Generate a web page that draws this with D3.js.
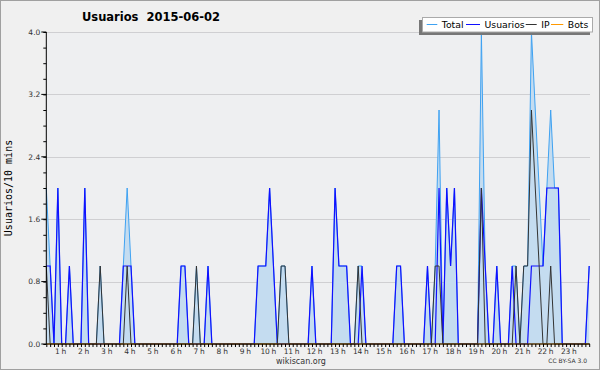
<!DOCTYPE html>
<html>
<head>
<meta charset="utf-8">
<style>
  body { margin: 0; background: #f0f0f0; }
  svg { display: block; }
  .tick-y { font-family: 'DejaVu Sans', sans-serif; font-size: 7.5px; fill: #333; }
  .tick-x { font-family: 'DejaVu Sans', sans-serif; font-size: 7.5px; fill: #333; letter-spacing: -0.3px; }
</style>
</head>
<body>
<svg width="600" height="370"></svg>
<script src="https://d3js.org/d3.v7.min.js"></script>
<script>
// one value every 10 minutes, from 0:00
const usuarios = [
  1,1,0,2,0,0,1,0,0,0,2,0,
  0,0,0,0,0,0,0,0,1,1,1,0,
  0,0,0,0,0,0,0,0,0,0,0,1,
  1,0,0,0,0,0,1,0,0,0,0,0,
  0,0,0,0,0,0,0,1,1,1,2,1,
  0,0,0,0,0,0,0,0,0,1,0,0,
  0,0,0,2,1,1,1,0,0,0,1,0,
  0,0,0,0,0,0,0,1,1,0,0,0,
  0,0,0,1,0,0,2,0,2,1,2,0,
  0,0,0,0,0,2,1,0,0,1,0,0,
  0,1,0,0,0,0,1,1,1,1,2,2,
  2,2,0,0,0,0,0,0,0,1
];
const ip = [
  1,0,0,0,0,0,0,0,0,0,0,0,
  0,0,1,0,0,0,0,0,0,1,0,0,
  0,0,0,0,0,0,0,0,0,0,0,0,
  0,0,0,1,0,0,0,0,0,0,0,0,
  0,0,0,0,0,0,0,0,0,0,0,0,
  0,1,1,0,0,0,0,0,0,0,0,0,
  0,0,0,0,0,0,0,0,0,1,0,0,
  0,0,0,0,0,0,0,0,0,0,0,0,
  0,0,0,0,0,1,1,0,0,0,0,0,
  0,0,0,0,0,2,0,0,0,0,0,0,
  0,0,1,0,1,1,3,2,1,0,0,1,
  0,0,0,0,0,0,0,0,0,0
];
const total = [
  2,1,0,2,0,0,1,0,0,0,2,0,
  0,0,1,0,0,0,0,0,1,2,1,0,
  0,0,0,0,0,0,0,0,0,0,0,1,
  1,0,0,1,0,0,1,0,0,0,0,0,
  0,0,0,0,0,0,0,1,1,1,2,1,
  0,1,1,0,0,0,0,0,0,1,0,0,
  0,0,0,2,1,1,1,0,0,1,1,0,
  0,0,0,0,0,0,0,1,1,0,0,0,
  0,0,0,1,0,1,3,0,2,1,2,0,
  0,0,0,0,0,4,1,0,0,1,0,0,
  0,1,1,0,1,1,4,3,2,1,2,3,
  2,2,0,0,0,0,0,0,0,1
];
const bots = [
  0,0,0,0,0,0,0,0,0,0,0,0,
  0,0,0,0,0,0,0,0,0,0,0,0,
  0,0,0,0,0,0,0,0,0,0,0,0,
  0,0,0,0,0,0,0,0,0,0,0,0,
  0,0,0,0,0,0,0,0,0,0,0,0,
  0,0,0,0,0,0,0,0,0,0,0,0,
  0,0,0,0,0,0,0,0,0,0,0,0,
  0,0,0,0,0,0,0,0,0,0,0,0,
  0,0,0,0,0,0,0,0,0,0,0,0,
  0,0,0,0,0,0,0,0,0,0,0,0,
  0,0,0,0,0,0,0,0,0,0,0,0,
  0,0,0,0,0,0,0,0,0,0
];
const hourLabels = ["1 h","2 h","3 h","4 h","5 h","6 h","7 h","8 h","9 h","10 h","11 h","12 h",
  "13 h","14 h","15 h","16 h","17 h","18 h","19 h","20 h","21 h","22 h","23 h"];
const yTicks = [0, 0.8, 1.6, 2.4, 3.2, 4.0];
const seriesNames = ["Total", "Usuarios", "IP", "Bots"];
const seriesColors = ["#3fa2f2", "#1010ff", "#333333", "#ff9900"];

const svg = d3.select("svg");
const plotLeft = 46.3, plotRight = 589.2, plotTop = 32, plotBottom = 344;

// frame
svg.append("rect").attr("x", 0.5).attr("y", 0.5).attr("width", 599).attr("height", 369)
  .style("fill", "#f0f0f0").style("stroke", "#a0a0a0");
svg.append("rect").attr("x", plotLeft).attr("y", plotTop).attr("width", 590 - plotLeft).attr("height", plotBottom - plotTop)
  .style("fill", "#eeeff1");

let x = d3.scaleLinear().domain([0, total.length - 1]).range([plotLeft, plotRight]);
let y = d3.scaleLinear().domain([0, 4]).range([plotBottom, plotTop]);

// grid
svg.selectAll(".grid").data(yTicks.slice(1)).join("line")
  .attr("x1", plotLeft).attr("x2", 590)
  .attr("y1", d => Math.round(y(d)) + 0.5).attr("y2", d => Math.round(y(d)) + 0.5)
  .style("stroke", "#cfcfd2").style("stroke-width", 1);

let line = d3.line().x((d, i) => x(i)).y(d => y(d));
let area = d3.area().x((d, i) => x(i)).y0(plotBottom).y1(d => y(d));

svg.append("path").attr("d", area(total)).style("fill", "#c4dcf0");

[total, usuarios, ip, bots].forEach((s, k) => {
  svg.append("path").attr("d", line(s))
    .style("fill", "none")
    .style("stroke", seriesColors[k])
    .style("stroke-width", k == 1 ? 1.2 : 1);
});

// y axis
let yAxis = d3.axisLeft(y).tickValues(d3.range(0, 4.01, 0.2)).tickSize(3).tickFormat("");
let gy = svg.append("g").attr("transform", `translate(${plotLeft},0)`).call(yAxis);
gy.selectAll("line").style("stroke", "#000");
gy.select(".domain").remove();
svg.selectAll(".ymajor").data(yTicks).join("line")
  .attr("x1", plotLeft - 5).attr("x2", plotLeft)
  .attr("y1", d => y(d)).attr("y2", d => y(d)).style("stroke", "#000");
svg.selectAll(".ylab").data(yTicks).join("text")
  .attr("class", "tick-y")
  .attr("x", plotLeft - 6).attr("y", d => y(d) + 2.8)
  .attr("text-anchor", "end")
  .text(d => d.toFixed(1));
svg.append("line").attr("x1", plotLeft).attr("x2", plotLeft).attr("y1", plotTop).attr("y2", plotBottom)
  .style("stroke", "#000");

// x axis
let xAxis = d3.axisBottom(x).tickValues(d3.range(0, total.length)).tickSize(3).tickFormat("");
let gx = svg.append("g").attr("transform", `translate(0,${plotBottom})`).call(xAxis);
gx.selectAll("line").style("stroke", "#000");
gx.select(".domain").remove();
svg.append("line").attr("x1", plotLeft).attr("x2", 590).attr("y1", plotBottom).attr("y2", plotBottom)
  .style("stroke", "#000");
svg.selectAll(".xlab").data(hourLabels).join("text")
  .attr("class", "tick-x")
  .attr("x", (d, i) => x((i + 1) * 6) - 9)
  .attr("y", 353.5)
  .attr("text-anchor", "middle")
  .text(d => d);

// titles
svg.append("text").attr("x", 151).attr("y", 21).attr("text-anchor", "middle")
  .style("font-family", "'DejaVu Sans', sans-serif").style("font-weight", "bold")
  .style("font-size", "11.5px").style("white-space", "pre").style("fill", "#000")
  .text("Usuarios  2015-06-02");
svg.append("text").attr("transform", `translate(12,${(plotTop + plotBottom) / 2}) rotate(-90)`)
  .attr("text-anchor", "middle")
  .style("font-family", "'DejaVu Sans Mono', monospace").style("font-size", "10px")
  .style("fill", "#000")
  .text("Usuarios/10 mins");
svg.append("text").attr("x", 301).attr("y", 364).attr("text-anchor", "middle")
  .style("font-family", "'DejaVu Sans', sans-serif").style("font-size", "8px").style("fill", "#333")
  .text("wikiscan.org");
svg.append("text").attr("x", 587).attr("y", 363).attr("text-anchor", "end")
  .style("font-family", "'DejaVu Sans', sans-serif").style("font-size", "6px").style("fill", "#333")
  .text("CC BY-SA 3.0");

// legend
let lg = svg.append("g");
lg.append("rect").attr("x", 419).attr("y", 20).attr("width", 171).attr("height", 15).style("fill", "#777");
lg.append("rect").attr("x", 422.5).attr("y", 17.5).attr("width", 170).attr("height", 14.5)
  .style("fill", "#fff").style("stroke", "#aaa");
const legendX = [426.7, 466, 525.7, 551];
const legendW = [10.6, 14, 11, 12.3];
seriesNames.forEach((n, k) => {
  lg.append("line").attr("x1", legendX[k]).attr("x2", legendX[k] + legendW[k])
    .attr("y1", 24.5).attr("y2", 24.5).style("stroke", seriesColors[k]);
  lg.append("text").attr("x", legendX[k] + legendW[k] + 4.5).attr("y", 28)
    .style("font-family", "'DejaVu Sans', sans-serif").style("font-size", "9.3px").style("fill", "#000")
    .text(n);
});
</script>
</body>
</html>
